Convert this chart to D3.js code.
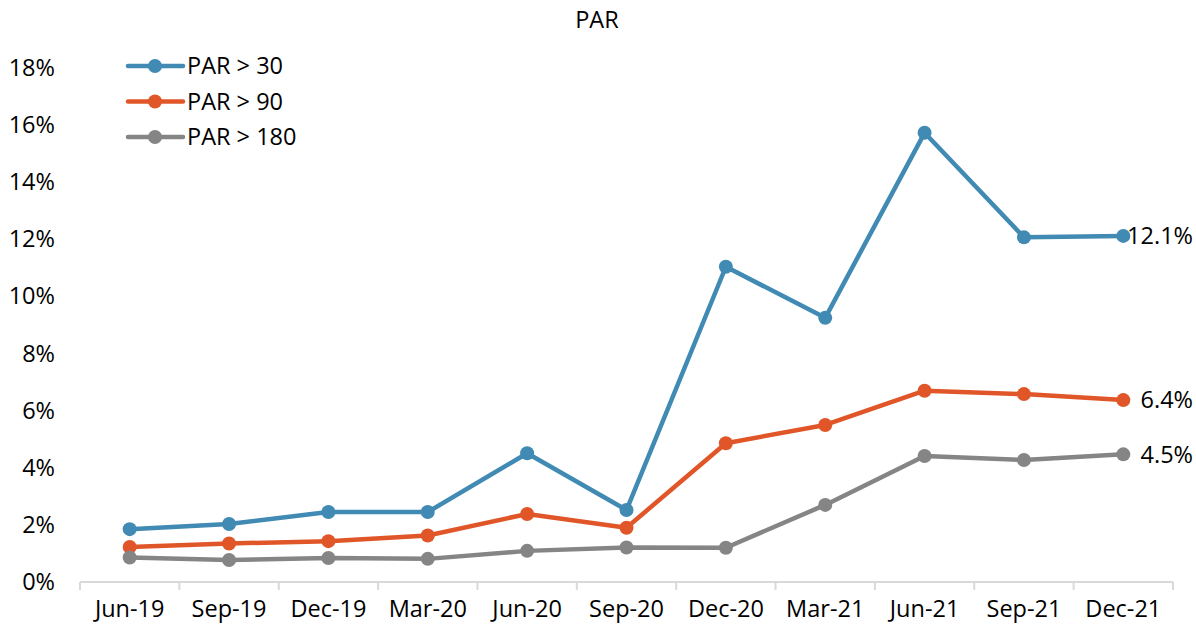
<!DOCTYPE html>
<html><head><meta charset="utf-8">
<script src="https://cdn.jsdelivr.net/npm/d3@7"></script>
<style>body{margin:0;background:#fff}svg{display:block}text{font-family:"Open Sans",sans-serif;fill:#000}</style>
</head><body><svg id="c" width="1196" height="628"></svg>
<script>
const categories = ["Jun-19","Sep-19","Dec-19","Mar-20","Jun-20","Sep-20","Dec-20","Mar-21","Jun-21","Sep-21","Dec-21"];
const par30  = [1.85, 2.03, 2.45, 2.45, 4.51, 2.52, 11.04, 9.25, 15.73, 12.07, 12.12];
const par90  = [1.23, 1.35, 1.43, 1.63, 2.38, 1.90, 4.86, 5.50, 6.70, 6.58, 6.37];
const par180 = [0.86, 0.77, 0.84, 0.81, 1.09, 1.21, 1.20, 2.70, 4.41, 4.27, 4.47];
const seriesNames = ["PAR > 30","PAR > 90","PAR > 180"];
const yTicks = [0,2,4,6,8,10,12,14,16,18];
const title = "PAR";

const colors = ["#418ab3","#e15628","#858585"];
const series = [par30, par90, par180];
const svg = d3.select("#c");
const fs = 23.5;

const x = d3.scaleBand().domain(categories).range([80,1173]).padding(0);
const y = d3.scaleLinear().domain([0,18]).range([582,68]);

// title
svg.append("text").attr("x",597).attr("y",28).attr("text-anchor","middle").style("font-size",fs+"px").text(title);

// y axis labels
const ya = svg.append("g").attr("transform","translate(55,0)").call(d3.axisLeft(y).tickValues(yTicks).tickSize(0).tickPadding(0).tickFormat(d=>d+"%"));
ya.select(".domain").remove();
ya.selectAll("text").style("font-size",fs+"px").attr("fill","#000").style("font-family","Open Sans");

// x axis
const xa = svg.append("g").attr("transform","translate(0,582)").call(d3.axisBottom(x).tickSize(0).tickPadding(18));
xa.select(".domain").attr("stroke","#d9d9d9").attr("stroke-width",2).attr("d","M80,0H1173");
xa.selectAll("text").style("font-size",fs+"px").attr("fill","#000").style("font-family","Open Sans");
const bounds = categories.map(c=>x(c)).concat([x(categories[categories.length-1])+x.bandwidth()]);
xa.selectAll(".bnd").data(bounds).enter().append("line").attr("x1",d=>d).attr("x2",d=>d).attr("y1",0).attr("y2",8).attr("stroke","#d9d9d9").attr("stroke-width",2);

const cx = c=>x(c)+x.bandwidth()/2;
const line = d3.line().x((d,i)=>cx(categories[i])).y(d=>y(d));

series.forEach((s,k)=>{
  const g = svg.append("g");
  g.append("path").datum(s).attr("d",line).attr("fill","none").attr("stroke",colors[k]).attr("stroke-width",4.5).attr("stroke-linejoin","round");
  g.selectAll("circle").data(s).enter().append("circle").attr("cx",(d,i)=>cx(categories[i])).attr("cy",d=>y(d)).attr("r",7).attr("fill",colors[k]);
  // end label
  const last = s[s.length-1];
  const px = cx(categories[categories.length-1]);
  const t = g.append("text").attr("y",y(last)).attr("dy","0.35em").style("font-size",fs+"px").text(last.toFixed(1)+"%");
  const w = t.node().getComputedTextLength();
  t.attr("x", Math.min(px+19, 1193-w));
});

// legend
const lg = svg.append("g");
seriesNames.forEach((n,k)=>{
  const yy = 66 + k*35.5;
  lg.append("line").attr("x1",128).attr("x2",183).attr("y1",yy).attr("y2",yy).attr("stroke",colors[k]).attr("stroke-width",4.5).attr("stroke-linecap","round");
  lg.append("circle").attr("cx",155).attr("cy",yy).attr("r",7).attr("fill",colors[k]);
  lg.append("text").attr("x",187).attr("y",yy).attr("dy","0.35em").style("font-size",fs+"px").text(n);
});
</script></body></html>
